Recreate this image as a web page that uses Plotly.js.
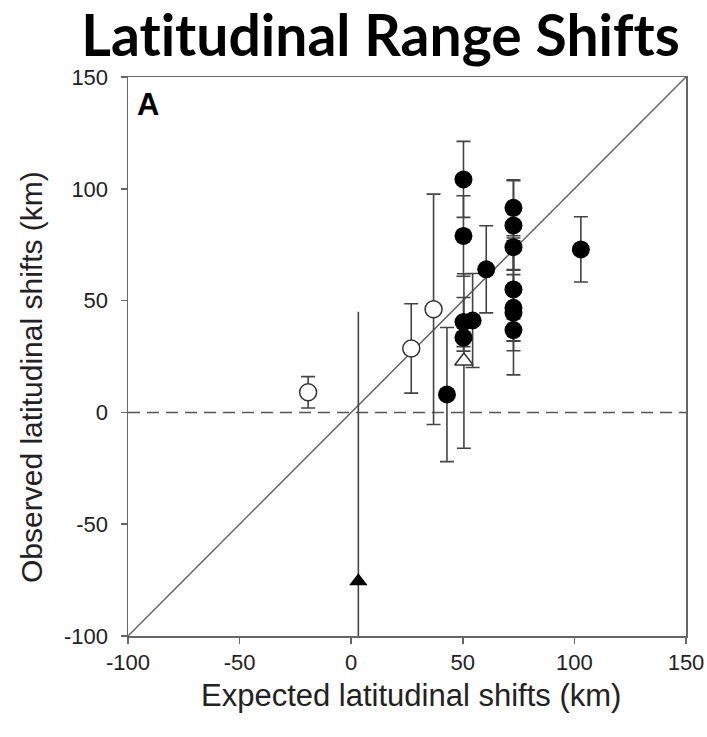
<!DOCTYPE html>
<html>
<head>
<meta charset="utf-8">
<script src="https://cdn.plot.ly/plotly-3.0.1.min.js"></script>
<style>html,body{margin:0;padding:0;background:#fff;}#chart{width:707px;height:737px;}
text{font-variant-ligatures:none;font-feature-settings:"liga" 0,"clig" 0;}</style>
</head>
<body>
<div id="chart"></div>
<script>
// Filled circles
const filledX   = [50.3, 50.3, 50.3, 50.3, 54.4, 60.5, 42.9, 102.9, 72.7, 72.7, 72.7, 72.7, 72.7, 72.7, 72.7];
const filledY   = [104.2, 78.9, 40.4, 33.4, 41.1, 64.0, 8.0, 72.9, 91.5, 83.6, 73.9, 55.0, 46.8, 44.6, 36.8];
const filledErr = [17, 18, 11, 6, 21, 19.5, 30, 14.6, 12.5, 20, 10, 23, 30, 17, 5];
// Open circles
const openX   = [-19.3, 26.9, 36.9];
const openY   = [9.0, 28.6, 46.1];
const openErr = [7, 20, 51.5];
// Open triangle
const openTriX   = [50.5];
const openTriY   = [23.0];
const openTriErr = [39];
// Filled triangle
const filledTriX     = [3.2];
const filledTriY     = [-75.5];
const filledTriErrUp = [120.5];
const filledTriErrDn = [120];

const tickVals = [-100, -50, 0, 50, 100, 150];
const tickText = ['-100', '-50', '0', '50', '100', '150'];
const xTitle = 'Expected latitudinal shifts (km)';
const yTitle = 'Observed latitudinal shifts (km)';
const chartTitle = 'Latitudinal Range Shifts';
const panelLabel = 'A';

const errStyle = {color: '#444', thickness: 1.6, width: 7};
const ARIAL = 'Arial';

const traces = [
  {
    x: filledTriX, y: filledTriY, type: 'scatter', mode: 'markers',
    error_y: {type: 'data', symmetric: false, array: filledTriErrUp, arrayminus: filledTriErrDn, width: 0, color: '#444', thickness: 1.6},
    marker: {symbol: 'triangle-up', size: 16, color: '#000'}
  },
  {
    x: openX, y: openY, type: 'scatter', mode: 'markers',
    error_y: Object.assign({type: 'data', array: openErr}, errStyle),
    marker: {symbol: 'circle', size: 17, color: '#fff', line: {color: '#333', width: 1.5}}
  },
  {
    x: openTriX, y: openTriY, type: 'scatter', mode: 'markers',
    error_y: Object.assign({type: 'data', array: openTriErr}, errStyle),
    marker: {symbol: 'triangle-up', size: 16, color: '#fff', line: {color: '#333', width: 1.5}}
  },
  {
    x: filledX, y: filledY, type: 'scatter', mode: 'markers',
    error_y: Object.assign({type: 'data', array: filledErr}, errStyle),
    marker: {symbol: 'circle', size: 18, color: '#000'}
  }
];

const axisCommon = {
  range: [-100, 150], tickvals: tickVals, ticktext: tickText,
  showgrid: false, zeroline: false, showline: true, mirror: true,
  linecolor: '#666', linewidth: 1.5, ticks: 'outside', ticklen: 6, tickwidth: 1.5, tickcolor: '#666',
  tickfont: {family: ARIAL, size: 22, color: '#222'}
};

const layout = {
  width: 707, height: 737,
  margin: {l: 128, r: 21, t: 77, b: 101},
  paper_bgcolor: '#fff', plot_bgcolor: '#fff',
  showlegend: false,
  title: {
    text: '<b>' + chartTitle + '</b>',
    font: {family: 'Lato, Noto Sans, sans-serif', size: 57, color: '#000'},
    x: 380.5 / 707, xanchor: 'center', xref: 'container',
    yref: 'container', y: 1 - 36 / 737, yanchor: 'middle'
  },
  xaxis: Object.assign({}, axisCommon, {ticklabelstandoff: 0}),
  yaxis: Object.assign({}, axisCommon, {ticklabelstandoff: 8}),
  shapes: [
    {type: 'line', xref: 'x', yref: 'y', x0: -100, y0: -100, x1: 150, y1: 150,
     line: {color: '#666', width: 1.5}, layer: 'below'},
    {type: 'line', xref: 'paper', yref: 'y', x0: 0, x1: 1, y0: 0, y1: 0,
     line: {color: '#555', width: 1.5, dash: '12px,7px'}, layer: 'below'}
  ],
  annotations: [
    {text: '<b>' + panelLabel + '</b>', xref: 'paper', yref: 'paper', x: 0.012, y: 0.985,
     xanchor: 'left', yanchor: 'top', showarrow: false,
     font: {family: ARIAL, size: 31, color: '#000'}},
    {text: xTitle, xref: 'paper', yref: 'paper', x: (411 - 128) / 558, y: (636 - 695) / 559,
     xanchor: 'center', yanchor: 'middle', showarrow: false,
     font: {family: ARIAL, size: 31, color: '#222'}},
    {text: yTitle, xref: 'paper', yref: 'paper', x: (31 - 128) / 558, y: (636 - 377) / 559,
     xanchor: 'center', yanchor: 'middle', showarrow: false, textangle: -90,
     font: {family: ARIAL, size: 30, color: '#222'}}
  ]
};

Plotly.newPlot('chart', traces, layout, {displayModeBar: false, staticPlot: true});
</script>
</body>
</html>
